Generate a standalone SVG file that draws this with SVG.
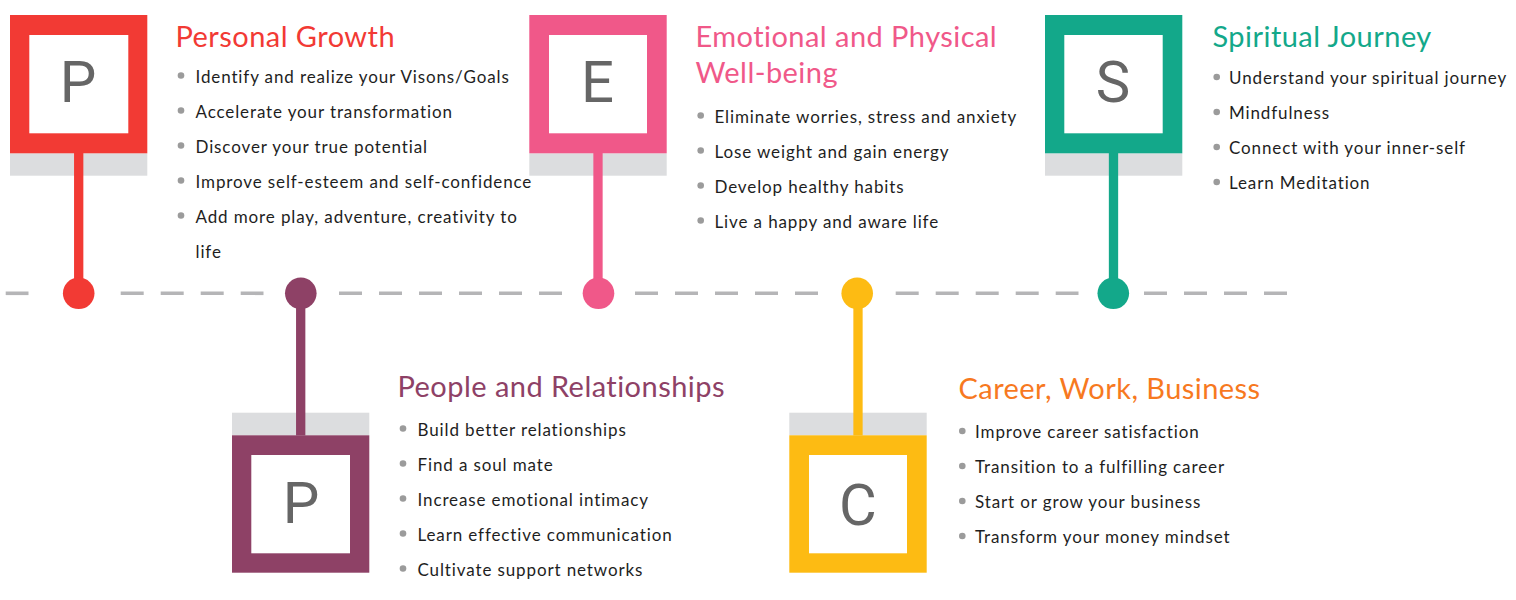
<svg xmlns="http://www.w3.org/2000/svg" width="1516" height="600" viewBox="0 0 1516 600">
<style>
.bg{fill:#ffffff}
.band{fill:#dcdddf}
.inner{fill:#ffffff}
.letter{font-family:Roboto,"Liberation Sans",sans-serif;font-size:58px;fill:#666666;text-anchor:middle}
.head{font-family:Lato,"Liberation Sans",sans-serif;font-size:29px;letter-spacing:0.45px}
.item{font-family:Lato,"Liberation Sans",sans-serif;font-size:17px;letter-spacing:0.88px;fill:#1e1e1e}
.bullet{fill:#9b9b9b}
.dash{stroke:#b5b5b7;stroke-width:3.6;stroke-dasharray:23 17;fill:none}
.red{fill:#f23a34}.redS{stroke:#f23a34}
.pink{fill:#f05889}.pinkS{stroke:#f05889}
.green{fill:#13a88a}.greenS{stroke:#13a88a}
.purple{fill:#8e4166}.purpleS{stroke:#8e4166}
.yellow{fill:#fdbb13}.yellowS{stroke:#fdbb13}
.stem{stroke-width:9.3;fill:none}
</style>
<rect class="bg" x="0" y="0" width="1516" height="600"/>

<g id="connectors">
  <line class="dash" x1="5.7" y1="293.3" x2="28.5" y2="293.3"/>
  <line class="dash" x1="120.7" y1="293.3" x2="263.5" y2="293.3"/>
  <line class="dash" x1="339" y1="293.3" x2="562.5" y2="293.3"/>
  <line class="dash" x1="635" y1="293.3" x2="818.5" y2="293.3"/>
  <line class="dash" x1="895.7" y1="293.3" x2="1078.5" y2="293.3"/>
  <line class="dash" x1="1144" y1="293.3" x2="1288.5" y2="293.3"/>
</g>

<g id="node-personal">
  <rect class="band" x="10" y="153.3" width="137.3" height="22.4"/>
  <rect class="red" x="10" y="15" width="137.3" height="138.3"/>
  <rect class="inner" x="29.3" y="35" width="99" height="98.3"/>
  <text class="letter" x="78" y="101.7">P</text>
  <line class="stem redS" x1="78.7" y1="153" x2="78.7" y2="293"/>
  <circle class="red" cx="78.7" cy="293.3" r="15.8"/>
  <text class="head" x="175.5" y="46.7" fill="#f23a34">Personal Growth</text>
  <circle class="bullet" cx="181" cy="75.5" r="3.3"/>
  <circle class="bullet" cx="181" cy="110.5" r="3.3"/>
  <circle class="bullet" cx="181" cy="145.5" r="3.3"/>
  <circle class="bullet" cx="181" cy="180.5" r="3.3"/>
  <circle class="bullet" cx="181" cy="215.5" r="3.3"/>
  <text class="item" x="195.5" y="82.7">Identify and realize your Visons/Goals</text>
  <text class="item" x="195.5" y="117.7">Accelerate your transformation</text>
  <text class="item" x="195.5" y="152.7">Discover your true potential</text>
  <text class="item" x="195.5" y="187.7">Improve self-esteem and self-confidence</text>
  <text class="item" x="195.5" y="222.7">Add more play, adventure, creativity to</text>
  <text class="item" x="195.5" y="257.7">life</text>
</g>

<g id="node-people">
  <rect class="band" x="232" y="412.7" width="137.3" height="22.6"/>
  <rect class="purple" x="232" y="435.3" width="137.3" height="137.4"/>
  <rect class="inner" x="251.3" y="455" width="98.7" height="98.3"/>
  <text class="letter" x="301" y="523.3">P</text>
  <line class="stem purpleS" x1="300.7" y1="293.3" x2="300.7" y2="435.5"/>
  <circle class="purple" cx="300.8" cy="293.3" r="15.8"/>
  <text class="head" x="397.5" y="397.3" fill="#8e4166">People and Relationships</text>
  <circle class="bullet" cx="403" cy="428.5" r="3.3"/>
  <circle class="bullet" cx="403" cy="463.5" r="3.3"/>
  <circle class="bullet" cx="403" cy="498.5" r="3.3"/>
  <circle class="bullet" cx="403" cy="533.5" r="3.3"/>
  <circle class="bullet" cx="403" cy="568.5" r="3.3"/>
  <text class="item" x="417.5" y="435.7">Build better relationships</text>
  <text class="item" x="417.5" y="470.7">Find a soul mate</text>
  <text class="item" x="417.5" y="505.7">Increase emotional intimacy</text>
  <text class="item" x="417.5" y="540.7">Learn effective communication</text>
  <text class="item" x="417.5" y="575.7">Cultivate support networks</text>
</g>

<g id="node-emotional">
  <rect class="band" x="529.3" y="153.3" width="137.4" height="22.4"/>
  <rect class="pink" x="529.3" y="15" width="137.4" height="138.3"/>
  <rect class="inner" x="549" y="35" width="98" height="98.3"/>
  <text class="letter" x="597.5" y="101.7">E</text>
  <line class="stem pinkS" x1="598" y1="153" x2="598" y2="293"/>
  <circle class="pink" cx="598.5" cy="293.3" r="15.8"/>
  <text class="head" x="695.5" y="46.7" fill="#f05889">Emotional and Physical</text>
  <text class="head" x="695.5" y="82.7" fill="#f05889">Well-being</text>
  <circle class="bullet" cx="700.7" cy="115.5" r="3.3"/>
  <circle class="bullet" cx="700.7" cy="150.5" r="3.3"/>
  <circle class="bullet" cx="700.7" cy="185.5" r="3.3"/>
  <circle class="bullet" cx="700.7" cy="220.5" r="3.3"/>
  <text class="item" x="714.5" y="122.7">Eliminate worries, stress and anxiety</text>
  <text class="item" x="714.5" y="157.7">Lose weight and gain energy</text>
  <text class="item" x="714.5" y="192.7">Develop healthy habits</text>
  <text class="item" x="714.5" y="227.7">Live a happy and aware life</text>
</g>

<g id="node-career">
  <rect class="band" x="789.3" y="412.7" width="137.4" height="22.6"/>
  <rect class="yellow" x="789.3" y="435.3" width="137.4" height="137.4"/>
  <rect class="inner" x="809" y="455" width="98" height="98.3"/>
  <text class="letter" x="858" y="524.5">C</text>
  <line class="stem yellowS" x1="858" y1="293.3" x2="858" y2="435.5"/>
  <circle class="yellow" cx="857.2" cy="293.3" r="15.8"/>
  <text class="head" x="958.5" y="398.7" fill="#f7791f">Career, Work, Business</text>
  <circle class="bullet" cx="962.3" cy="431" r="3.3"/>
  <circle class="bullet" cx="962.3" cy="466" r="3.3"/>
  <circle class="bullet" cx="962.3" cy="501" r="3.3"/>
  <circle class="bullet" cx="962.3" cy="536" r="3.3"/>
  <text class="item" x="975" y="438.3">Improve career satisfaction</text>
  <text class="item" x="975" y="473.3">Transition to a fulfilling career</text>
  <text class="item" x="975" y="508.3">Start or grow your business</text>
  <text class="item" x="975" y="543.3">Transform your money mindset</text>
</g>

<g id="node-spiritual">
  <rect class="band" x="1045" y="153.3" width="137.3" height="22.4"/>
  <rect class="green" x="1045" y="15" width="137.3" height="138.3"/>
  <rect class="inner" x="1064.3" y="35" width="98.4" height="98.3"/>
  <text class="letter" x="1113" y="101.7">S</text>
  <line class="stem greenS" x1="1113.5" y1="153" x2="1113.5" y2="293"/>
  <circle class="green" cx="1113.3" cy="293.3" r="15.8"/>
  <text class="head" x="1212.5" y="46.7" fill="#13a88a">Spiritual Journey</text>
  <circle class="bullet" cx="1216.7" cy="77" r="3.3"/>
  <circle class="bullet" cx="1216.7" cy="112" r="3.3"/>
  <circle class="bullet" cx="1216.7" cy="147" r="3.3"/>
  <circle class="bullet" cx="1216.7" cy="182" r="3.3"/>
  <text class="item" x="1229" y="84">Understand your spiritual journey</text>
  <text class="item" x="1229" y="119">Mindfulness</text>
  <text class="item" x="1229" y="154">Connect with your inner-self</text>
  <text class="item" x="1229" y="189">Learn Meditation</text>
</g>
</svg>
